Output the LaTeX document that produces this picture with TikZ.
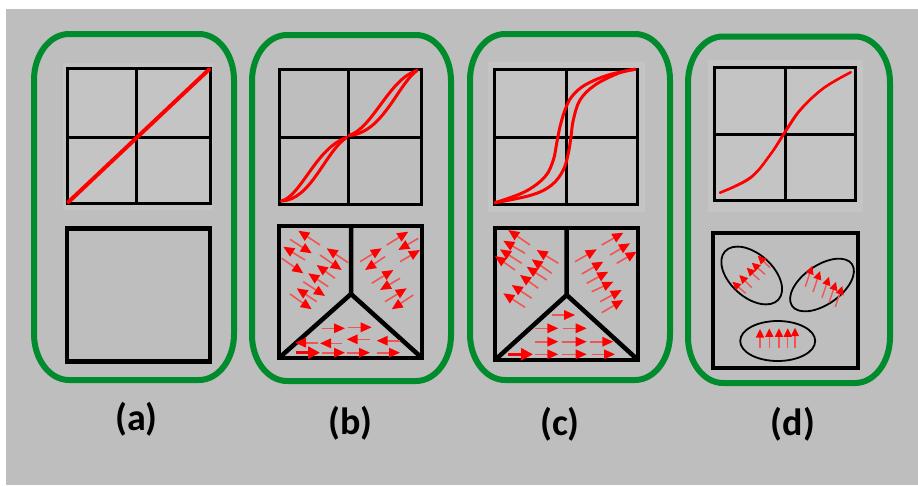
\documentclass[tikz,border=0pt]{standalone}
\usepackage{fontspec}
\setmainfont{Carlito}
\usetikzlibrary{arrows.meta}
\definecolor{bggray}{RGB}{190,190,190}
\definecolor{pastegray}{RGB}{196,196,196}
\definecolor{framegreen}{RGB}{0,140,45}
\definecolor{curvered}{RGB}{255,0,0}
\definecolor{stemred}{RGB}{240,85,85}

% rounded frame with elliptical corners: x1 y1 x2 y2
\newcommand\pframe[4]{%
  \draw[panel] (#1,#2+46) arc[start angle=180,end angle=270,x radius=35,y radius=46]
    -- (#3-35,#2) arc[start angle=270,end angle=360,x radius=35,y radius=46]
    -- (#3,#4-46) arc[start angle=0,end angle=90,x radius=35,y radius=46]
    -- (#1+35,#4) arc[start angle=90,end angle=180,x radius=35,y radius=46]
    -- cycle;}
% B-H axes box: x1 y1 x2 y2 xmid ymid
\newcommand\axesbox[6]{%
  \draw[gridline] (#1,#2) rectangle (#3,#4) (#5,#2) -- (#5,#4) (#1,#6) -- (#3,#6);}

\begin{document}
\begin{tikzpicture}[x=1pt,y=-1pt,
  panel/.style={draw=framegreen,line width=6pt},
  gridline/.style={draw=black,line width=3pt,line cap=rect},
  grainbox/.style={draw=black,line width=4.5pt,line join=miter},
  bh/.style={draw=curvered,line width=3pt,line cap=round},
  arr/.style={draw=stemred,line width=1.6pt,-{Triangle[length=11pt,width=9.5pt,color=curvered]}},
  bigarr/.style={draw=curvered,line width=3.5pt,-{Triangle[length=12pt,width=12pt]}},
  smallarr/.style={draw=stemred,line width=1.4pt,-{Triangle[length=8.5pt,width=8pt,color=curvered]}},
  domainring/.style={draw=black,line width=1.8pt},
  lab/.style={font=\bfseries\fontsize{38}{38}\selectfont,inner sep=0pt}]

\useasboundingbox (0,0) rectangle (918,485);
\fill[white] (0,0) rectangle (918,485);
\fill[bggray] (6,9) rectangle (918,485);

% pasted plot backgrounds
\fill[pastegray] (63,63) rectangle (213,210);
\fill[pastegray] (488,62) rectangle (645,212);
\fill[pastegray] (708,60) rectangle (863,212);

% frames
\pframe{34}{34}{234}{380}
\pframe{252}{35}{451}{381}
\pframe{470}{34}{670}{380}
\pframe{688}{36.5}{890}{383}

% ---------- (a) paramagnetic ----------
\axesbox{67}{68}{210}{203}{136}{137}
\draw[bh,line width=4pt] (68.5,202) -- (209,69.5);
\draw[grainbox] (67,228.5) rectangle (210,361.5);

% ---------- (b) ----------
\axesbox{279}{69}{421}{204}{348}{137}
\draw[bh] (281.5,201) .. controls (301,196) and (316,148) .. (346.5,137.5);
\draw[bh] (281.5,201) .. controls (311,200) and (325,152) .. (346.5,137.5);
\draw[bh] (349,135.5) .. controls (373,128) and (389,79) .. (417,70.5);
\draw[bh] (349,135.5) .. controls (383,133) and (398,84) .. (417,70.5);

\draw[grainbox] (279,226) rectangle (422,358);
\draw[grainbox] (351,226) -- (351,294) (279,358) -- (351,294) -- (422,358);
\foreach \tx/\ty/\hx/\hy in {
  320/245/298.3/230.7, 290/239.3/311.7/253.3, 305/260/283.3/246.7,
  348.3/262.7/326.7/248.3, 281.7/258.3/303.3/273.3, 320/255/341.7/270,
  335/278.3/316.7/265, 328.3/286.7/308.3/273.3, 303.3/281.7/325/296,
  316.7/301.7/296.7/288.3, 290/294/311.7/309.3,
  386.7/245/408.3/231.7, 360/261.7/381.7/248.3, 418.3/238.3/398.3/250,
  400/261.7/420/250, 385/256.7/365/270, 371.7/283.3/393.3/270,
  400/278.3/380/290, 385/301.7/406.7/288.3, 413.3/295/391.7/309.3,
  321.7/328.3/345/328.3, 348.3/327.3/371.7/327.3,
  318.3/342.7/295/342.7, 341.7/343.3/320/343.3, 370/339.3/346.7/339.3,
  400/340.7/376.7/340.7,
  321.7/352.7/345/352.7, 346.7/352.7/370/352.7, 376.7/352.7/400/352.7}
  \draw[arr] (\tx,\ty) -- (\hx,\hy);
\draw[bigarr] (296,352.7) -- (320,352.7);

% ---------- (c) ----------
\axesbox{494}{69}{637}{204}{566}{137}
\draw[bh] plot[smooth,tension=0.6] coordinates {(495,202.7) (525,191.7) (545,176.7)
  (553.3,160) (556.7,143.3) (560,126.7) (565,110) (571.7,96.7) (585,85) (608.3,75) (635,69.3)};
\draw[bh] plot[smooth,tension=0.6] coordinates {(495,202.7) (531.7,195) (551.7,185)
  (563.3,170) (568.3,153.3) (571,136.7) (573.3,120) (580,100) (595,85) (618.3,73.3) (635,69.3)};

\draw[grainbox] (495,228) rectangle (638,360);
\draw[grainbox] (566.7,228) -- (566.7,295) (495,360) -- (566.7,295) -- (638,360);
\foreach \tx/\ty/\hx/\hy in {
  530/245/508.3/230, 525/253.3/503.3/240.7, 521.7/263.3/500/249.3,
  515/270/495/256, 558.3/263.3/536.7/250, 551.7/273.3/531.7/259.3,
  546.7/280/526.7/266.7, 538.3/288.3/520/275, 531.7/298.3/511.7/285,
  525/307.3/503.3/293.3,
  601.7/245/623.3/232.7, 610/255/630/243.3, 616.7/263.3/636.7/251.7,
  575/261.7/596.7/249.3, 581.7/274/603.3/261.7, 586.7/283.3/608.3/271.7,
  591.7/291.7/613.3/281.7, 600/301.7/621.7/290, 601.7/312.7/623.3/300,
  551.7/315/575/315,
  535/328.3/558.3/328.3, 563.3/328.3/586.7/328.3,
  535/341.7/558.3/341.7, 561.7/341.7/586.7/341.7, 590/341.7/613.3/341.7,
  535/354.3/558.3/354.3, 561.7/354.3/586.7/354.3, 591.7/354.3/615/354.3}
  \draw[arr] (\tx,\ty) -- (\hx,\hy);
\draw[bigarr] (508,354.3) -- (533,354.3);

% ---------- (d) ----------
\axesbox{714}{67}{855}{200}{785}{134}
\draw[bh,line width=2.5pt] plot[smooth,tension=0.6] coordinates {(720,192.7) (750,178.3)
  (770,155) (785,131.7) (800,110) (823.3,88.3) (850.7,72.3)};
\draw[bh,line width=2pt] plot[smooth,tension=0.6] coordinates {(720,192.7) (751,176.8)
  (771.5,153) (786.5,130.5) (801.5,109) (824.5,87.5) (850.7,72.3)};

\draw[grainbox] (713,233) rectangle (858,368);
\draw[domainring,rotate around={-42:(751.7,275.5)}] (751.7,275.5) ellipse [x radius=36,y radius=21.5];
\draw[domainring,rotate around={35:(822,285)}] (822,285) ellipse [x radius=36.5,y radius=19.5];
\draw[domainring] (777.7,341) ellipse [x radius=37.5,y radius=20];
\foreach \tx/\ty/\hx/\hy in {
  745.7/293.3/732.3/281.7, 751.7/287.7/739.3/275, 759.3/280/746.7/267.7,
  765/274.3/751.7/262.7, 770/267.7/757.7/255.7,
  805.3/286.7/812.3/265.7, 813/292/820/271, 822/297.7/829/276.7,
  829/302.7/836/281.7, 835.3/307/842.3/286,
  760/348/760/329, 769.3/348/769.3/328.3, 779/348/779/328.3,
  787.7/348/787.7/328.3, 795/348/795/327.7}
  \draw[smallarr] (\tx,\ty) -- (\hx,\hy);

% ---------- captions ----------
\node[lab] (capa) at (136.5,419.5) {(a)};
\node[lab] (capb) at (350.5,423.5) {(b)};
\node[lab] (capc) at (560,424) {(c)};
\node[lab] (capd) at (793,424) {(d)};
\end{tikzpicture}
\end{document}
